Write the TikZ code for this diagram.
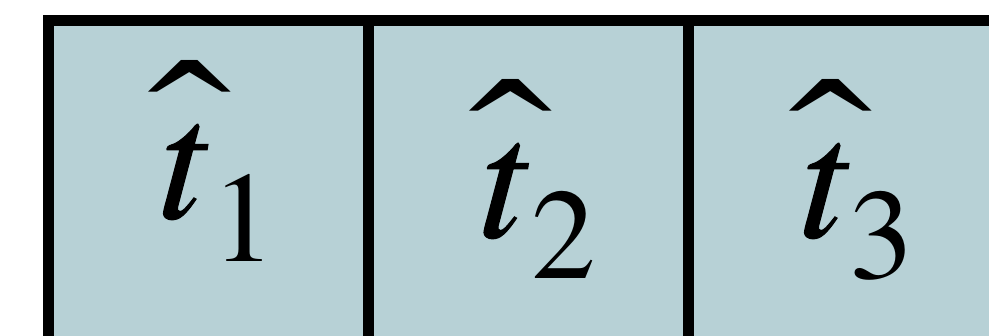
\documentclass[tikz,border=0pt]{standalone}
\usepackage{fontspec}
\setmainfont{texgyretermes}[Extension=.otf, UprightFont=*-regular, ItalicFont=*-italic, ItalicFeatures={FakeBold=0.6}]
\definecolor{cellfill}{RGB}{183,209,214}
\tikzset{
  cell/.style={draw=black, fill=cellfill, line width=11pt, minimum width=320pt, minimum height=379pt, inner sep=0pt},
  tvar/.style={anchor=base, inner sep=0pt, font=\fontsize{172}{172}\selectfont\itshape},
  tsub/.style={anchor=base, inner sep=0pt, font=\fontsize{129}{129}\selectfont},
  thathat/.style={anchor=base, inner sep=0pt, font=\fontsize{190}{190}\selectfont}
}
\newcommand{\widehatglyph}{\scalebox{1.4}[1]{ˆ}}
\begin{document}
\begin{tikzpicture}[x=1pt,y=1pt]
\useasboundingbox (0,0) rectangle (989,336);
\fill[white] (0,0) rectangle (989,336);
\begin{scope}
\clip (0,0) rectangle (989,336);
\node[cell] (c1) at (208.5,125.5) {};
\node[cell] (c2) at (528.5,125.5) {};
\node[cell] (c3) at (848.5,125.5) {};
\end{scope}
\node[tvar] (t1) at (181,118) {t};
\node[tsub] (s1) at (243.5,74) {1};
\node[thathat] (h1) at (189.5,147) {\widehatglyph};
\node[tvar] (t2) at (501.5,99) {t};
\node[tsub] (s2) at (563.5,57) {2};
\node[thathat] (h2) at (510.5,128) {\widehatglyph};
\node[tvar] (t3) at (822,99) {t};
\node[tsub] (s3) at (881.5,57) {3};
\node[thathat] (h3) at (830.3,128) {\widehatglyph};
\end{tikzpicture}
\end{document}
